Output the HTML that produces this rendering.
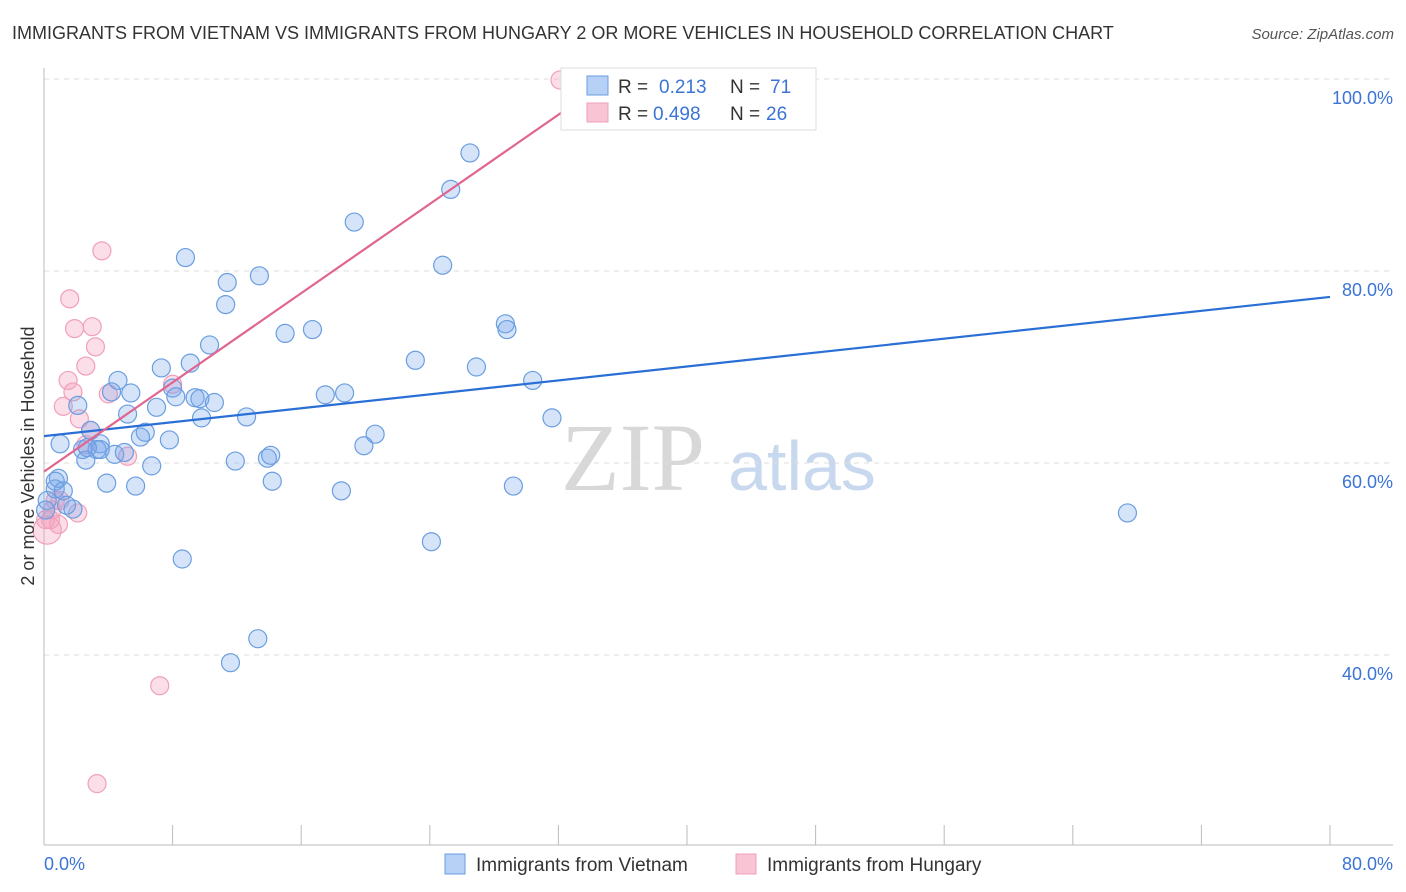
<!DOCTYPE html>
<html><head><meta charset="utf-8"><style>
body{margin:0;background:#fff;font-family:"Liberation Sans",sans-serif}
svg{display:block}
</style></head><body>
<svg id="chart" width="1406" height="892" xmlns="http://www.w3.org/2000/svg">
<text x="12" y="39" font-size="18" fill="#333" font-family="Liberation Sans, sans-serif">IMMIGRANTS FROM VIETNAM VS IMMIGRANTS FROM HUNGARY 2 OR MORE VEHICLES IN HOUSEHOLD CORRELATION CHART</text>
<text x="1394" y="39" font-size="15" fill="#555" font-style="italic" text-anchor="end">Source: ZipAtlas.com</text>
<g>
<text x="633" y="490" font-size="96" fill="#d8d8d8" font-family="Liberation Serif, serif" text-anchor="middle">ZIP</text>
<text x="802" y="490" font-size="70" fill="#c8d8ee" text-anchor="middle">atlas</text>
</g>
<g id="grid"></g>
<g id="axes"></g>
<g id="marks"></g>
<text transform="translate(34,456) rotate(-90)" font-size="18" fill="#333" text-anchor="middle">2 or more Vehicles in Household</text>
<g>
<rect x="561" y="68" width="255" height="62" fill="#fff" stroke="#ddd"/>
<rect x="587" y="76" width="21" height="19" fill="#b7d0f5" stroke="#6a9ee0"/>
<rect x="587" y="103" width="21" height="19" fill="#f9c4d3" stroke="#f0a0b8"/>
<text x="618" y="93" font-size="19" fill="#333">R = </text><text x="659" y="93" font-size="19" fill="#3b74d4">0.213</text>
<text x="730" y="93" font-size="19" fill="#333">N = </text><text x="770" y="93" font-size="19" fill="#3b74d4">71</text>
<text x="618" y="120" font-size="19" fill="#333">R = </text><text x="653" y="120" font-size="19" fill="#3b74d4">0.498</text>
<text x="730" y="120" font-size="19" fill="#333">N = </text><text x="766" y="120" font-size="19" fill="#3b74d4">26</text>
</g>
<g>
<rect x="445" y="854" width="20" height="20" fill="#b7d0f5" stroke="#6a9ee0"/>
<text x="476" y="871" font-size="19" fill="#333">Immigrants from Vietnam</text>
<rect x="736" y="854" width="20" height="20" fill="#f9c4d3" stroke="#f0a0b8"/>
<text x="767" y="871" font-size="19" fill="#333">Immigrants from Hungary</text>
</g>
</svg>
<script>
const blueX=[26.5,25.3,19.3,8.8,24.8,11.4,13.4,11.3,28.7,28.8,15.0,16.7,10.3,23.1,26.9,9.1,7.3,4.6,30.4,4.2,5.4,17.5,18.7,8.0,8.2,9.4,9.7,10.6,7.0,2.1,5.2,9.8,12.6,31.6,20.6,6.3,6.0,7.8,2.9,3.5,1.0,2.4,3.3,4.4,5.0,6.7,19.9,2.6,11.9,13.9,14.1,0.9,0.7,1.2,3.9,5.7,14.2,18.5,29.2,1.8,67.4,24.1,8.6,13.3,11.6,0.2,0.7,0.1,1.4,3.5,2.7];
const blueY=[92.3,88.5,85.1,81.4,80.6,78.8,79.5,76.5,74.5,73.9,73.5,73.9,72.3,70.7,70.0,70.4,69.9,68.6,68.6,67.4,67.3,67.1,67.3,67.8,66.9,66.8,66.7,66.3,65.8,66.0,65.1,64.7,64.8,64.7,63.0,63.2,62.7,62.4,63.4,62.0,62.0,61.4,61.4,60.9,61.1,59.7,61.8,60.3,60.2,60.5,60.8,58.4,57.3,57.1,57.9,57.6,58.1,57.1,57.6,55.2,54.8,51.8,50.0,41.7,39.2,56.1,58.1,55.1,55.6,61.4,61.6];
const pinkX=[32.1,3.6,1.6,3.0,1.9,3.2,2.6,1.5,1.8,1.2,2.2,4.0,8.0,2.9,5.2,2.1,0.9,0.4,0.5,0.2,7.2,3.3,0.7,2.6,1.0,0.1];
const pinkY=[99.9,82.1,77.1,74.2,74.0,72.1,70.1,68.6,67.4,65.9,64.6,67.2,68.2,63.4,60.7,54.8,53.6,54.1,55.1,53.0,36.8,26.6,56.1,61.9,56.1,54.1];
const blueTrend=[[0,62.8],[80,77.3]];
const pinkTrend=[[0,59.1],[34.6,99.3]];
const yTicks=[40,60,80,100];
const yTickLabels=["40.0%","60.0%","80.0%","100.0%"];
const xTicks=[0,8,16,24,32,40,48,56,64,72,80];

const NS="http://www.w3.org/2000/svg";
const sx=v=>44+v*16.075;
const sy=v=>79+(100-v)*9.6;
function mk(tag,attrs,parent){const e=document.createElementNS(NS,tag);for(const k in attrs)e.setAttribute(k,attrs[k]);parent.appendChild(e);return e;}
const grid=document.getElementById('grid'),axes=document.getElementById('axes'),marks=document.getElementById('marks');
yTicks.forEach((t,i)=>{
  const l=mk('line',{x1:44,x2:1393,y1:sy(t),y2:sy(t),stroke:'#ddd','stroke-dasharray':'5,5'},grid);
  
  
  const tx=mk('text',{x:1393,y:sy(t)+25,'font-size':18,fill:'#3b74d4','text-anchor':'end'},axes);
  tx.textContent=yTickLabels[i];
  
  
});
const ax=mk('line',{x1:44,x2:44,y1:68,y2:845,stroke:'#bbb'},axes);


const bx=mk('line',{x1:44,x2:1393,y1:845,y2:845,stroke:'#bbb'},axes);


xTicks.forEach(t=>{
  const l=mk('line',{x1:sx(t),x2:sx(t),y1:825,y2:845,stroke:'#bbb'},axes);
  
  
});
const x0=mk('text',{x:44,y:870,'font-size':18,fill:'#3b74d4'},axes);x0.textContent='0.0%';


const x1=mk('text',{x:1393,y:870,'font-size':18,fill:'#3b74d4','text-anchor':'end'},axes);x1.textContent='80.0%';


pinkX.forEach((v,i)=>{
  const c=mk('circle',{cx:sx(v),cy:sy(pinkY[i]),r:i===19?14:9,fill:'rgba(244,160,188,0.35)',stroke:'#f0a0b8','stroke-width':1.2},marks);
  
  
});
blueX.forEach((v,i)=>{
  const c=mk('circle',{cx:sx(v),cy:sy(blueY[i]),r:9,fill:'rgba(120,165,235,0.3)',stroke:'#6a9ee0','stroke-width':1.2},marks);
  
  
});
const bl=mk('line',{x1:sx(blueTrend[0][0]),y1:sy(blueTrend[0][1]),x2:sx(blueTrend[1][0]),y2:sy(blueTrend[1][1]),stroke:'#2a6fd6','stroke-width':2.2},marks);


const pl=mk('line',{x1:sx(pinkTrend[0][0]),y1:sy(pinkTrend[0][1]),x2:sx(pinkTrend[1][0]),y2:sy(pinkTrend[1][1]),stroke:'#e06690','stroke-width':2.2},marks);


</script>
</body></html>
